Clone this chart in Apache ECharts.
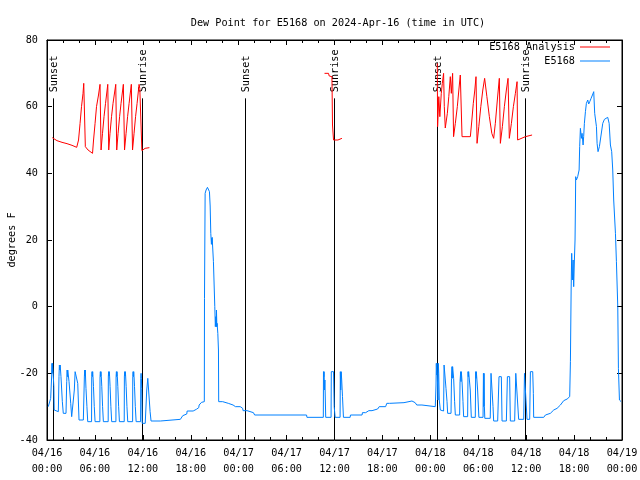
<!DOCTYPE html>
<html><head><meta charset="utf-8">
<script src="https://cdn.jsdelivr.net/npm/echarts@6.0.0/dist/echarts.min.js"></script>
<style>html,body{margin:0;padding:0;background:#fff}#c{width:640px;height:480px}</style>
</head><body><div id="c"></div>
<script>
// x values are hours since 2024-04-16 00:00 UTC
const xTickLabels = ['04/16\n00:00','04/16\n06:00','04/16\n12:00','04/16\n18:00','04/17\n00:00','04/17\n06:00','04/17\n12:00','04/17\n18:00','04/18\n00:00','04/18\n06:00','04/18\n12:00','04/18\n18:00','04/19\n00:00'];
const sunHours  = [0.79, 11.92, 24.82, 35.92, 48.85, 59.87];
const sunLabels = ['Sunset','Sunrise','Sunset','Sunrise','Sunset','Sunrise'];
const sunLineTop = 62.5;

const analysisNight1 = [[0.66,50.7],[1.25,49.8],[1.88,49.3],[2.51,48.9],[3.13,48.4],[3.72,47.8],[3.95,50],[4.14,55],[4.32,60],[4.51,64],[4.60,67],[4.74,67],[4.80,48],[5.14,47],[5.70,46],
 [5.83,50],[6.02,55],[6.20,60],[6.45,63.5],[6.64,66.7],[6.77,47],
 [6.95,52],[7.14,57],[7.33,61],[7.61,66.7],[7.73,47],
 [7.89,52],[8.08,57],[8.27,61],[8.61,66.7],[8.73,47],
 [8.90,52],[9.09,57],[9.27,61],[9.56,66.7],[9.71,47],
 [9.90,52],[10.09,57],[10.28,61],[10.56,66.7],[10.71,47],
 [10.90,52],[11.09,57],[11.28,61],[11.53,66.7],[11.62,65.5],[11.84,65],[11.88,46.8],[12.28,47.5],[12.82,47.7]];
const analysisDay2 = [[34.75,70],[35.25,70],[35.34,69.2],[35.68,69],[35.75,54.5],[35.88,50],[36.43,50],[36.50,50.5],[36.93,50.5]];
const analysisNight2 = [[48.87,73],[48.91,54],[49.06,63],[49.19,57],[49.37,64],[49.50,67],[49.66,70],[49.75,60],[49.87,53.6],[50.13,58],[50.31,63],[50.50,69],[50.63,64],[50.79,70],[50.91,51],
 [51.13,55],[51.38,60],[51.57,65],[51.75,69.5],[51.97,51],[53.01,51],[53.20,56],[53.38,61],[53.57,65],[53.72,69],[53.85,49],
 [54.07,54],[54.32,60],[54.57,65],[54.80,68.5],[55.08,63],[55.39,57],[55.70,52],[55.93,50.5],[56.14,55],[56.39,62],[56.64,68.5],[56.77,49],
 [57.02,54],[57.27,60],[57.52,65],[57.73,68.5],[57.89,50.5],[58.15,55],[58.40,60],[58.65,64],[58.86,67.5],[58.93,50],[59.90,51],[60.74,51.5]];

const observed = [
 [0.16,-30],[0.38,-30.5],[0.46,-27.5],[0.59,-20.5],[0.62,-17],[0.66,-20],[0.70,-17],[0.79,-17],[0.86,-24],[0.90,-31],[1.00,-31.5],[1.42,-31.5],
 [1.50,-21],[1.55,-17.5],[1.60,-19],[1.65,-17.5],[1.75,-21],[1.92,-28.5],[2.04,-32],[2.38,-32],
 [2.47,-22.5],[2.52,-19],[2.56,-21],[2.60,-19],[2.76,-22.5],[2.97,-29],[3.09,-33],[3.30,-33],
 [3.42,-25],[3.52,-19.5],[3.72,-19.5],[3.85,-23],[4.01,-34],[4.55,-34],
 [4.67,-34],[4.68,-21],[4.72,-19],[4.76,-21],[4.80,-19],[4.84,-22],[4.88,-24.5],[5.00,-30],[5.10,-34.5],
 [5.58,-34.5],[5.60,-21],[5.64,-19.5],[5.68,-21],[5.72,-19.5],[5.76,-21],[5.82,-24],[5.92,-30],[6.02,-34.5],
 [6.62,-34.5],[6.64,-21],[6.68,-19.5],[6.72,-21],[6.76,-19.5],[6.80,-21],[6.86,-24],[6.96,-30],[7.06,-34.5],
 [7.66,-34.5],[7.68,-21],[7.72,-19.5],[7.76,-21],[7.80,-19.5],[7.84,-21],[7.90,-24],[8.00,-30],[8.10,-34.5],
 [8.63,-34.5],[8.65,-21],[8.69,-19.5],[8.73,-21],[8.77,-19.5],[8.81,-21],[8.87,-24],[8.97,-30],[9.07,-34.5],
 [9.67,-34.5],[9.69,-21],[9.73,-19.5],[9.77,-21],[9.81,-19.5],[9.85,-21],[9.91,-24],[10.01,-30],[10.11,-34.5],
 [10.72,-34.5],[10.74,-21],[10.78,-19.5],[10.82,-21],[10.86,-19.5],[10.90,-21],[10.96,-24],[11.06,-30],[11.16,-34.5],
 [11.72,-34.5],[11.74,-21.5],[11.78,-20],[11.82,-21.5],[11.86,-24.5],[11.92,-35],[12.30,-35],
 [12.49,-25],[12.62,-21.5],[12.82,-21.5],[12.91,-31.5],[13.03,-34.3],[14.20,-34.3],[14.25,-33.8],[16.70,-33.8],[16.75,-33.3],[16.95,-33.3],[17.00,-32.7],[17.20,-32.7],
 [17.25,-32.2],[17.50,-32.2],[17.55,-31.3],[18.30,-31.3],[18.35,-30.8],[18.70,-30.8],[18.75,-30.3],[19.00,-30.3],[19.05,-29.5],[19.30,-29.5],[19.35,-28.7],[19.70,-28.5],
 [19.72,2.5],[19.78,2.5],[19.80,34],[19.92,35],[20.00,34.5],[20.09,35.8],[20.22,35.2],[20.34,34.5],[20.43,30.2],[20.51,22],[20.59,18.7],[20.62,20.5],[20.64,19],[20.68,20.8],[20.76,20.8],
 [20.84,13.5],[20.97,13],[21.01,0],[21.08,-6],[21.14,-3],[21.20,-6],[21.22,-1],[21.27,-6],[21.30,-5],[21.39,-8],[21.47,-13],[21.50,-28.5],
 [22.00,-28.5],[22.05,-29],[22.70,-29],[22.75,-29.5],[23.30,-29.5],[23.35,-29.8],[23.55,-29.8],[23.60,-30],[24.20,-30],[24.30,-30.5],[24.50,-30.5],[24.55,-31.2],[25.05,-31.2],[25.15,-31.8],[25.85,-31.8],[26.00,-32.5],[32.50,-32.5],[32.55,-33.2],
 [34.60,-33.2],[34.62,-19.5],[34.66,-21],[34.70,-19.5],[34.74,-25],[34.80,-22],[34.90,-33.2],[35.57,-33.2],[35.60,-19.5],[35.88,-19.5],[35.96,-30],[36.08,-33.2],
 [36.70,-33.2],[36.73,-19.5],[36.78,-25],[36.84,-19.5],[36.90,-22],[37.00,-27],[37.12,-33.2],[37.96,-33.2],[38.00,-32.5],[39.45,-32.5],[39.50,-31.8],[39.90,-31.8],[40.00,-31.5],[40.30,-31.2],[40.70,-31.2],[40.80,-30.7],[41.40,-30.7],
 [41.60,-30],[42.40,-30],[42.55,-29],[42.90,-29],[43.00,-28.8],[44.70,-28.8],[44.80,-28.3],[45.70,-28.3],[45.85,-28.8],[46.10,-28.8],[46.30,-29.5],[46.95,-29.5],[47.10,-30],[48.62,-30],
 [48.71,-23.5],[48.75,-17],[48.79,-20.5],[48.83,-17],[48.87,-20.5],[48.96,-28],[49.00,-17],[49.05,-20],[49.12,-28],[49.25,-31],[49.37,-31.3],[49.66,-31.3],
 [49.72,-17.5],[49.87,-17.5],[49.96,-24.5],[50.09,-28.5],[50.17,-32],[50.59,-32],
 [50.65,-21.5],[50.71,-18],[50.75,-21.5],[50.79,-18],[50.92,-21.5],[51.04,-28.5],[51.13,-32.5],[51.67,-32.5],
 [51.72,-22.5],[51.80,-19.5],[51.84,-22.5],[51.88,-19.5],[51.97,-22.5],[52.09,-28.5],[52.17,-33],[52.67,-33],
 [52.72,-19.5],[52.76,-21],[52.80,-19.5],[52.92,-19.5],[53.00,-25],[53.13,-33.2],[53.63,-33.2],
 [53.68,-19.5],[53.72,-21.5],[53.76,-19.5],[53.92,-25],[54.08,-33.2],[54.60,-33.2],
 [54.65,-20],[54.70,-30],[54.73,-20],[54.77,-30],[54.82,-33.5],[55.50,-33.5],[55.60,-20],[55.73,-20.5],[55.85,-30],[55.93,-34.3],[56.43,-34.3],
 [56.60,-21],[56.89,-21],[56.98,-34.3],[57.52,-34.3],[57.65,-21],[57.93,-21],[58.02,-34.3],[58.56,-34.3],
 [58.70,-20],[58.93,-20],[59.06,-33.8],[59.69,-33.8],[59.79,-20],[60.03,-20],[60.11,-33.8],[60.44,-33.8],[60.53,-19.5],[60.82,-19.5],[60.90,-26],[60.94,-33.2],
 [62.20,-33.2],[62.41,-32.5],[63.03,-32],[63.45,-31],[63.87,-30.5],[64.29,-29.5],[64.70,-28.2],[65.13,-27.7],[65.45,-27],
 [65.54,-16.5],[65.63,5],[65.70,16],[65.79,8],[65.88,14],[65.95,6],[66.04,14],[66.12,20],[66.17,30.5],[66.20,39],[66.29,38],[66.38,37.5],[66.45,39],[66.63,41],[66.70,48],
 [66.79,53.5],[66.92,50.5],[67.00,52],[67.13,48.5],[67.20,51],[67.29,55],[67.42,58.5],[67.54,61],[67.71,62],[67.83,60.8],[67.96,61.5],[68.13,62.5],[68.30,63.5],[68.46,64.5],
 [68.58,58],[68.80,54],[68.88,49],[69.00,46.5],[69.17,48],[69.42,48.2],[69.59,55],[69.80,56.2],[70.05,56],[70.21,56.8],[70.39,55],[70.55,48.5],[70.71,46.5],[70.84,41],[70.96,32],
 [71.18,22],[71.30,13.5],[71.47,0],[71.55,-18.5],[71.68,-28],[71.89,-28.5]
];

const FONT = '"DejaVu Sans Mono", "Liberation Mono", monospace';
const FS = 10.2;
const RED = '#ff0000', BLUE = '#0080ff';

const chart = echarts.init(document.getElementById('c'), null, {renderer: 'canvas'});
const lineSeries = (name, data, color) => ({
  type: 'line', name, data, xAxisIndex: 0, yAxisIndex: 0,
  symbol: 'none', showSymbol: false, animation: false, silent: true,
  lineStyle: {color, width: 1}, itemStyle: {color}, z: 3
});
const legendBase = {
  orient: 'vertical', align: 'right', right: 30, padding: 0, itemWidth: 30, itemHeight: 1,
  icon: 'rect', selectedMode: false,
  textStyle: {fontFamily: FONT, fontSize: FS, color: '#000'}
};
const tickStyle = {show: true, inside: true, length: 5, lineStyle: {color: '#000'}};
const minorStyle = {show: true, splitNumber: 3, length: 3, lineStyle: {color: '#000'}};
const lineStyleAx = {show: true, onZero: false, lineStyle: {color: '#000', width: 1}};
chart.setOption({
  animation: false,
  backgroundColor: '#fff',
  title: {
    text: 'Dew Point for E5168 on 2024-Apr-16 (time in UTC)',
    left: 333, top: 13, textAlign: 'center',
    textStyle: {fontFamily: FONT, fontSize: FS, fontWeight: 'normal', color: '#000'}
  },
  legend: [
    Object.assign({}, legendBase, {data: ['E5168 Analysis'], top: 42}),
    Object.assign({}, legendBase, {data: ['E5168'], top: 56})
  ],
  grid: {left: 47, right: 18, top: 40, bottom: 40, show: true, borderColor: '#000', borderWidth: 1, outerBoundsMode: 'none', containLabel: false},
  xAxis: [{
    type: 'value', min: 0, max: 72, interval: 6, position: 'bottom',
    axisLine: lineStyleAx, axisTick: tickStyle, minorTick: minorStyle,
    splitLine: {show: false},
    axisLabel: {margin: 5, fontFamily: FONT, fontSize: FS, color: '#000', lineHeight: 16,
      formatter: v => xTickLabels[Math.round(v / 6)]}
  }, {
    type: 'value', min: 0, max: 72, interval: 6, position: 'top',
    axisLine: lineStyleAx, axisTick: tickStyle, minorTick: minorStyle,
    splitLine: {show: false}, axisLabel: {show: false}
  }],
  yAxis: [{
    type: 'value', min: -40, max: 80, interval: 20, position: 'left',
    name: 'degrees F', nameLocation: 'middle', nameGap: 30, nameRotate: 90, nameMoveOverlap: false,
    nameTextStyle: {fontFamily: FONT, fontSize: FS, color: '#000'},
    axisLine: lineStyleAx, axisTick: tickStyle,
    splitLine: {show: false},
    axisLabel: {margin: 9, fontFamily: FONT, fontSize: FS, color: '#000'}
  }, {
    type: 'value', min: -40, max: 80, interval: 20, position: 'right',
    axisLine: lineStyleAx, axisTick: tickStyle,
    splitLine: {show: false}, axisLabel: {show: false}
  }],
  series: [
    {
      type: 'custom', name: 'sun', xAxisIndex: 0, yAxisIndex: 0, silent: true, animation: false, z: 2,
      data: sunHours.map(h => [h, sunLineTop]),
      renderItem: function (params, api) {
        const h = api.value(0);
        const p0 = api.coord([h, -40]);
        const p1 = api.coord([h, api.value(1)]);
        const x = Math.round(p0[0]) + 0.5;
        return {type: 'group', children: [
          {type: 'line', shape: {x1: x, y1: p0[1], x2: x, y2: p1[1]}, style: {stroke: '#000', lineWidth: 1}},
          {type: 'text', x: x + 1, y: p1[1] - 6, rotation: Math.PI / 2,
           style: {text: sunLabels[params.dataIndex], fill: '#000', font: FS + 'px ' + FONT,
                   align: 'left', verticalAlign: 'middle', textAlign: 'left', textVerticalAlign: 'middle'}}
        ]};
      }
    },
    lineSeries('E5168 Analysis', analysisNight1, RED),
    lineSeries('E5168 Analysis', analysisDay2, RED),
    lineSeries('E5168 Analysis', analysisNight2, RED),
    lineSeries('E5168', observed, BLUE)
  ]
});
</script></body></html>
